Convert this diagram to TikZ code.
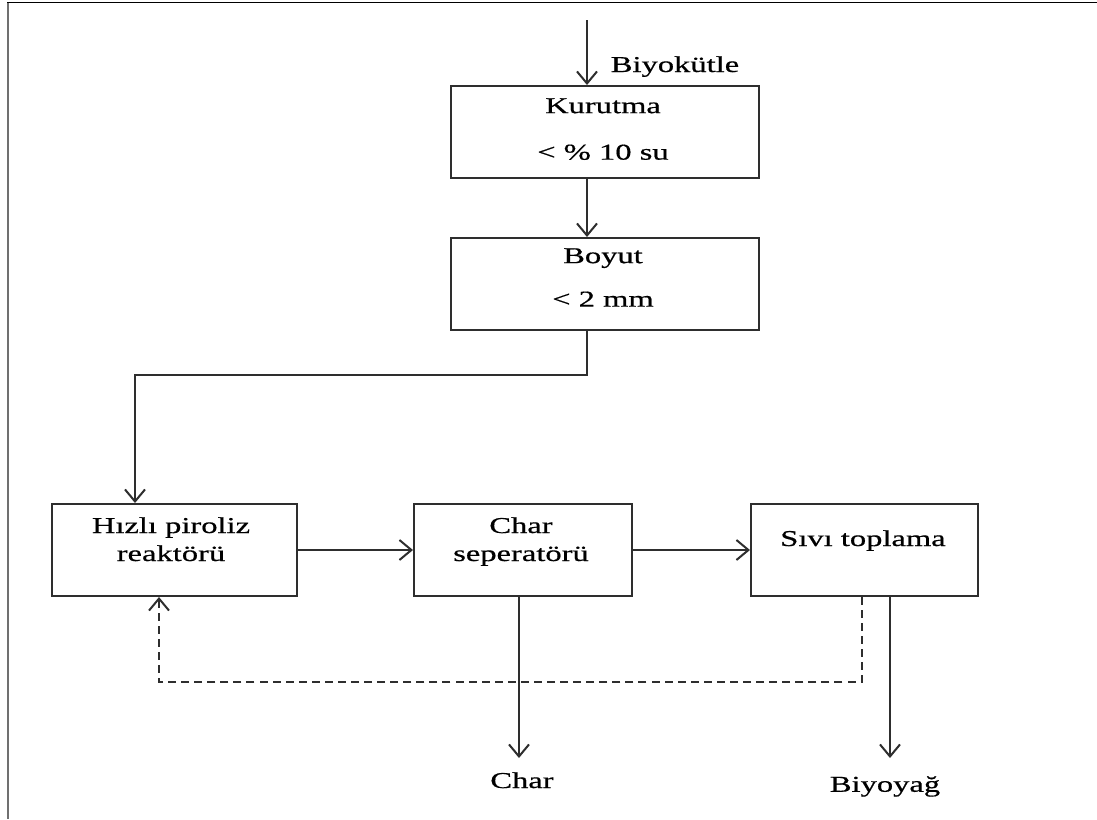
\documentclass[tikz,border=0pt]{standalone}
\usepackage{fontspec}
\setmainfont{Liberation Serif}[FakeStretch=1.436, FakeBold=0.6]
\usetikzlibrary{arrows.meta}

\definecolor{inkline}{HTML}{2E2E2E}
\definecolor{framegray}{HTML}{707070}

\tikzset{
  stagebox/.style={draw=inkline, line width=1.5pt, inner sep=0pt},
  txt/.style={inner sep=0pt, anchor=north, align=center, text=black},
  flow/.style={draw=inkline, line width=1.5pt,
    -{Straight Barb[length=9pt,width=15pt,line width=1.5pt]}},
  recyc/.style={flow, dash pattern=on 6pt off 3.8pt},
}

\begin{document}
\begin{tikzpicture}[x=0.75pt, y=-0.75pt,
  font=\fontsize{17pt}{21pt}\selectfont]
  \useasboundingbox (0,0) rectangle (1097,819);

  % page frame
  \draw[framegray, line width=2.2pt] (8,2) -- (8,819);
  \draw[black, line width=1.3pt] (7,2.5) -- (1097,2.5);

  % process boxes
  \node[stagebox, minimum width=231pt, minimum height=69pt] (kur) at (605,132) {};
  \node[stagebox, minimum width=231pt, minimum height=69pt] (boy) at (605,284) {};
  \node[stagebox, minimum width=183.75pt, minimum height=69pt] (hiz) at (174.5,550) {};
  \node[stagebox, minimum width=163.5pt, minimum height=69pt] (sep) at (523,550) {};
  \node[stagebox, minimum width=170.25pt, minimum height=69pt] (siv) at (864.5,550) {};

  % box texts
  \node[txt, font=\fontsize{17pt}{34.9pt}\selectfont] (kurt) at (603,98) {Kurutma\\< \% 10 su};
  \node[txt, font=\fontsize{17pt}{32.6pt}\selectfont] (boyt) at (603,248) {Boyut\\< 2 mm};
  \node[txt] (hizt) at (171,517) {Hızlı piroliz\\reaktörü};
  \node[txt] (sept) at (521,517) {Char\\seperatörü};
  \node[txt] (sivt) at (863,530) {Sıvı toplama};

  % stream labels
  \node[txt] (feed) at (675,56) {Biyokütle};
  \node[txt] (charlbl) at (522,772) {Char};
  \node[txt] (oillbl) at (885,776) {Biyoyağ};

  % connector points
  \coordinate (in) at (587,20);
  \coordinate (bend) at (135,375);
  \coordinate (charend) at (519,758);
  \coordinate (oilend) at (890,758);
  \coordinate (dr) at (862,682);
  \coordinate (dl) at (159,682);

  % main flow
  \draw[flow] (in) -- (in |- kur.north);
  \draw[flow] (in |- kur.south) -- (in |- boy.north);
  \draw[flow] (in |- boy.south) |- (bend) -- (bend |- hiz.north);
  \draw[flow] (hiz.east) -- (sep.west);
  \draw[flow] (sep.east) -- (siv.west);
  \draw[flow] (sep.south -| charend) -- (charend);
  \draw[flow] (siv.south -| oilend) -- (oilend);

  % recycle line
  \draw[recyc] (siv.south -| dr) -- (dr) -- (dl) -- (dl |- hiz.south);
\end{tikzpicture}
\end{document}
